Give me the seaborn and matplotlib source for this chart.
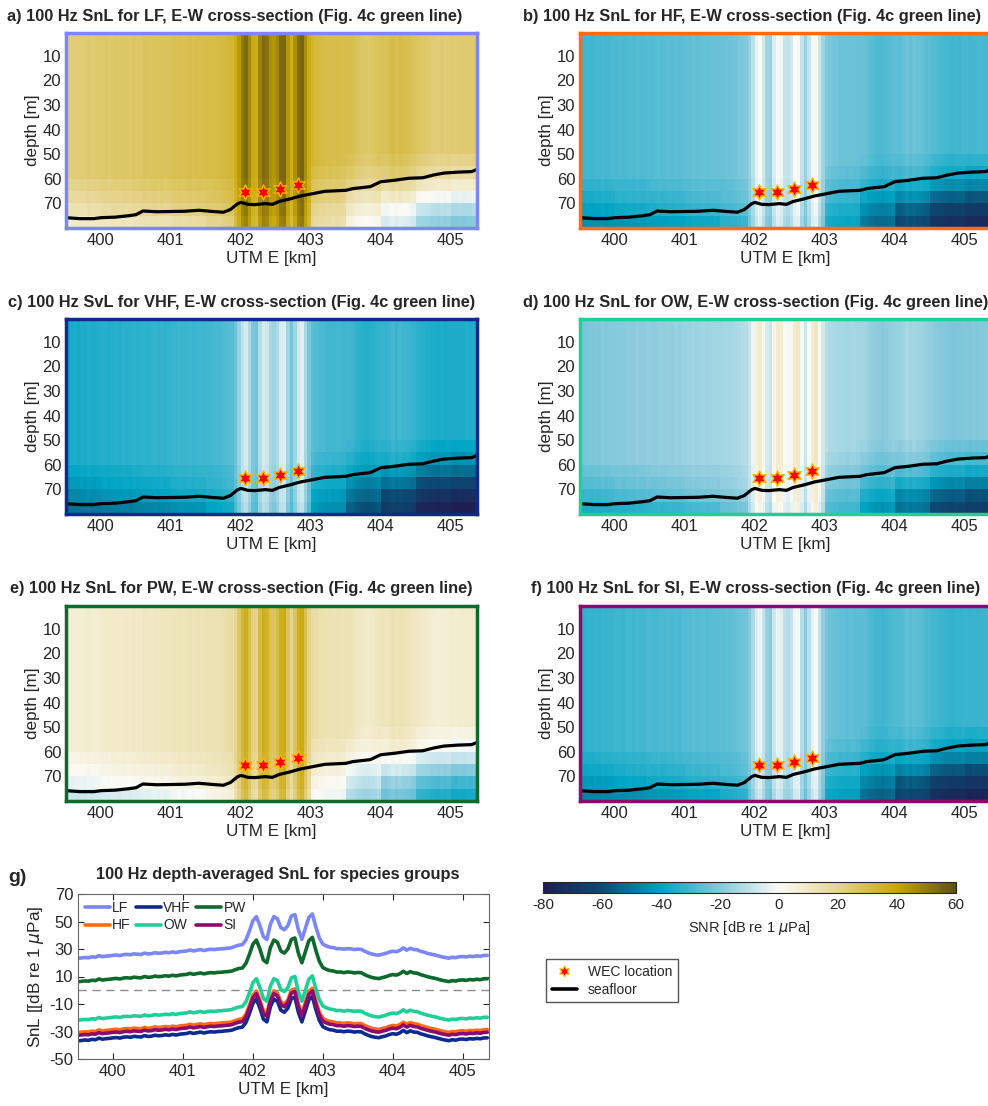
import numpy as np
import matplotlib
matplotlib.use("Agg")
import matplotlib.pyplot as plt
import seaborn as sns
import pandas as pd
from matplotlib.colors import LinearSegmentedColormap, Normalize
from matplotlib.lines import Line2D

sns.set_style("ticks")
plt.rcParams['font.family'] = ['Liberation Sans', 'DejaVu Sans']
plt.rcParams['mathtext.fontset'] = 'dejavusans'
plt.rcParams['axes.unicode_minus'] = False

# UTM E grid (km), one value every 50 m
utm_e = np.round(399.5 + 0.05*np.arange(118), 3)

# depth-averaged SnL for LF (dB)
snl_lf = [23.2, 23.5, 23.8, 23.6, 24.3, 24.0, 25.2, 24.4, 24.8, 25.0,
          25.4, 25.6, 25.2, 25.9, 26.1, 25.8, 26.5, 26.2, 26.0, 27.0,
          26.4, 26.6, 27.3, 26.9, 27.1, 27.6, 27.2, 27.9, 27.4, 28.0,
          28.3, 28.5, 29.3, 28.6, 29.1, 29.6, 28.9, 29.5, 29.8, 29.6,
          30.0, 30.1, 30.4, 30.6, 31.0, 32.0, 32.8, 33.2, 36.5, 43.0,
          50.5, 53.5, 47.0, 39.0, 37.0, 48.0, 53.5, 52.0, 45.5, 44.0,
          47.0, 54.0, 55.0, 44.0, 37.0, 45.0, 53.0, 55.5, 46.0, 38.0,
          33.5, 32.2, 31.3, 31.0, 30.2, 30.3, 29.8, 30.3, 30.1, 29.6,
          29.9, 29.7, 28.3, 27.2, 26.3, 25.8, 25.5, 26.2, 26.8, 27.8,
          28.4, 28.0, 29.0, 30.8, 29.2, 30.5, 29.6, 29.4, 28.3, 27.6,
          26.8, 26.2, 25.7, 25.0, 24.3, 23.8, 23.3, 24.0, 23.7, 24.4,
          24.5, 24.2, 24.8, 24.5, 25.0, 24.7, 25.3, 25.4]

# species groups: offset from the LF curve (dB) and colour
groups = ['LF', 'HF', 'VHF', 'OW', 'PW', 'SI']
group_offset = [0.0, -54.0, -60.0, -45.0, -17.0, -56.0]
group_color = ['#7b87f7', '#ff6a17', '#0d2a8e', '#1fcf98', '#0d6a2c', '#8c0b6e']
group_level = ['SnL', 'SnL', 'SvL', 'SnL', 'SnL', 'SnL']

# extra loss near the bottom (dB), depth rows 50-80 m, per along-track zone
zone_edges = [399.5, 400.0, 400.5, 401.0, 401.5, 401.9, 403.0, 403.5, 404.0, 404.5, 405.0, 405.4]
bottom_loss = np.array([
    # 52.5  57.5  62.5  67.5  72.5  77.5 m
    [0, 0, -3, -6, -10, -15],
    [0, 0, -3, -5, -9, -15],
    [0, 0, -2, -5, -8, -14],
    [0, 0, -2, -4, -7, -13],
    [0, 0, -2, -3, -6, -10],
    [0, 0, -1, -2, -3, -5],
    [0, -2, -5, -8, -12, -15],
    [-1, -4, -8, -14, -20, -25],
    [-2, -5, -12, -20, -30, -35],
    [-3, -7, -15, -25, -35, -42],
    [-4, -9, -17, -28, -38, -45],
]).T
depth_edges = np.arange(0, 85, 5)

# seafloor and WEC positions
floor_x = [399.5, 399.7, 399.9, 400.0, 400.2, 400.4, 400.5, 400.6, 400.8, 401.0, 401.2,
           401.4, 401.6, 401.75, 401.85, 401.95, 402.0, 402.1, 402.2, 402.35, 402.45, 402.55,
           402.7, 402.85, 403.0, 403.2, 403.5, 403.6, 403.85, 404.0, 404.2, 404.4, 404.6,
           404.75, 404.9, 405.1, 405.3, 405.375]
floor_depth = [75.8, 76.2, 76.2, 75.8, 75.6, 75.0, 74.6, 73.1, 73.4, 73.3, 73.2,
               72.8, 73.3, 73.6, 72.5, 70.2, 69.6, 70.4, 70.5, 70.1, 70.4, 69.2,
               68.2, 67.0, 66.2, 65.1, 64.7, 64.0, 63.2, 61.2, 60.6, 59.8, 59.6,
               58.5, 57.7, 57.3, 57.1, 56.2]
wec_x = [402.06, 402.31, 402.56, 402.81]
wec_depth = [65.5, 65.5, 64.3, 62.5]

# colour scale -80..60 dB
cb_levels = [-80, -60, -40, -20, 0, 20, 40, 60]
cb_colors = ['#1e1e52', '#0b4b73', '#00a5c4', '#86c9dc', '#fbfbf7', '#e6d591', '#c9a806', '#5f5016']
cmap = LinearSegmentedColormap.from_list(
    'snr', [((v + 80)/140, c) for v, c in zip(cb_levels, cb_colors)])
norm = Normalize(-80, 60)

fig = plt.figure(figsize=(9.88, 11.06), dpi=100)
W, H = 988, 1106

def ax_px(x0, y0, w, h):
    return fig.add_axes([x0/W, 1 - (y0 + h)/H, w/W, h/H])

panel_pos = [(66, 33), (580, 33), (66, 319), (580, 319), (66, 606), (580, 606)]
title_pos = [(235, 17), (752, 17), (242, 302), (756, 302), (241, 589), (756, 589)]
letters = 'abcdef'

zone_of_col = np.digitize(utm_e, zone_edges[1:-1])
lf = np.array(snl_lf)
x_edges = np.round(399.5 + 0.05*np.arange(119), 3)

for k, g in enumerate(groups):
    ax = ax_px(panel_pos[k][0], panel_pos[k][1], 411, 195)
    field = np.tile(lf + group_offset[k], (16, 1))
    field[10:, :] += bottom_loss[:, zone_of_col]
    ax.pcolormesh(x_edges, depth_edges, field, cmap=cmap, norm=norm, shading='flat')
    floor = pd.DataFrame({'x': floor_x, 'd': floor_depth})
    sns.lineplot(data=floor, x='x', y='d', ax=ax, color='black', lw=2.3, sort=False)
    ax.scatter(wec_x, wec_depth, marker=(6, 1, 0), s=120, c='#ff0000',
               edgecolors='#ffb400', linewidths=1.0, zorder=5)
    ax.set_xlim(399.5, 405.375)
    ax.set_ylim(80, 0.8)
    ax.set_xticks(range(400, 406))
    ax.set_yticks(range(10, 80, 10))
    ax.tick_params(direction='in', top=True, right=True, labelsize=12, length=4, width=0.8)
    ax.set_xlabel('UTM E [km]', fontsize=12.3, labelpad=2)
    ax.set_ylabel('depth [m]', fontsize=12.3, labelpad=2)
    for sp in ax.spines.values():
        sp.set_color(group_color[k])
        sp.set_linewidth(2.5)
    fig.text(title_pos[k][0]/W, 1 - title_pos[k][1]/H,
             f'{letters[k]}) 100 Hz {group_level[k]} for {g}, E-W cross-section (Fig. 4c green line)',
             ha='center', va='center', fontsize=11.8, fontweight='bold')

# panel g: depth-averaged curves
axg = ax_px(78, 894, 411, 165)
rows = []
for g, off in zip(groups, group_offset):
    rows.append(pd.DataFrame({'x': utm_e, 'snl': lf + off, 'group': g}))
curves = pd.concat(rows, ignore_index=True)
axg.axhline(0, color='#8c8c8c', lw=1, dashes=(6, 4))
sns.lineplot(data=curves, x='x', y='snl', hue='group', hue_order=groups,
             palette=dict(zip(groups, group_color)), lw=2.6, ax=axg)
axg.set_xlim(399.5, 405.375)
axg.set_ylim(-50, 70)
axg.set_yticks(range(-50, 71, 20))
axg.set_xticks(range(400, 406))
axg.tick_params(direction='in', top=True, right=True, labelsize=12, length=4, width=0.8)
axg.set_xlabel('UTM E [km]', fontsize=12.3, labelpad=2)
axg.set_ylabel(r'SnL [[dB re 1 $\mu$Pa]', fontsize=12.3, labelpad=2)
for sp in axg.spines.values():
    sp.set_color('#666666')
    sp.set_linewidth(0.8)
handles, labels = axg.get_legend_handles_labels()
axg.legend(handles, labels, ncol=3, loc='upper left', frameon=False, fontsize=10,
           handlelength=1.8, handletextpad=0.15, columnspacing=0.4, labelspacing=0.25,
           borderaxespad=0.1, bbox_to_anchor=(0.0, 1.0))
fig.text(278/W, 1 - 875/H, '100 Hz depth-averaged SnL for species groups',
         ha='center', va='center', fontsize=11.8, fontweight='bold')
fig.text(8/W, 1 - 877/H, 'g)', ha='left', va='center', fontsize=14, fontweight='bold')

# colour bar
cax = ax_px(543, 882, 413, 11)
sm = plt.cm.ScalarMappable(norm=norm, cmap=cmap)
cb = fig.colorbar(sm, cax=cax, orientation='horizontal', ticks=cb_levels)
cb.ax.tick_params(direction='in', labelsize=11, length=3, width=0.8)
cb.outline.set_linewidth(0.8)
cb.set_label(r'SNR [dB re 1 $\mu$Pa]', fontsize=10.5, labelpad=5)

# marker legend
leg_handles = [Line2D([], [], ls='none', marker=(6, 1, 0), ms=8, mfc='#ff0000',
                      mec='#ffb400', mew=0.8),
               Line2D([], [], color='black', lw=2.6)]
fig.legend(leg_handles, ['WEC location', 'seafloor'], loc='upper left',
           bbox_to_anchor=(546/W, 1 - 959/H), fontsize=10, fancybox=False,
           edgecolor='#555555', framealpha=1, borderpad=0.4, labelspacing=0.3,
           handlelength=1.8, borderaxespad=0)

fig.savefig('out.png', dpi=100)
